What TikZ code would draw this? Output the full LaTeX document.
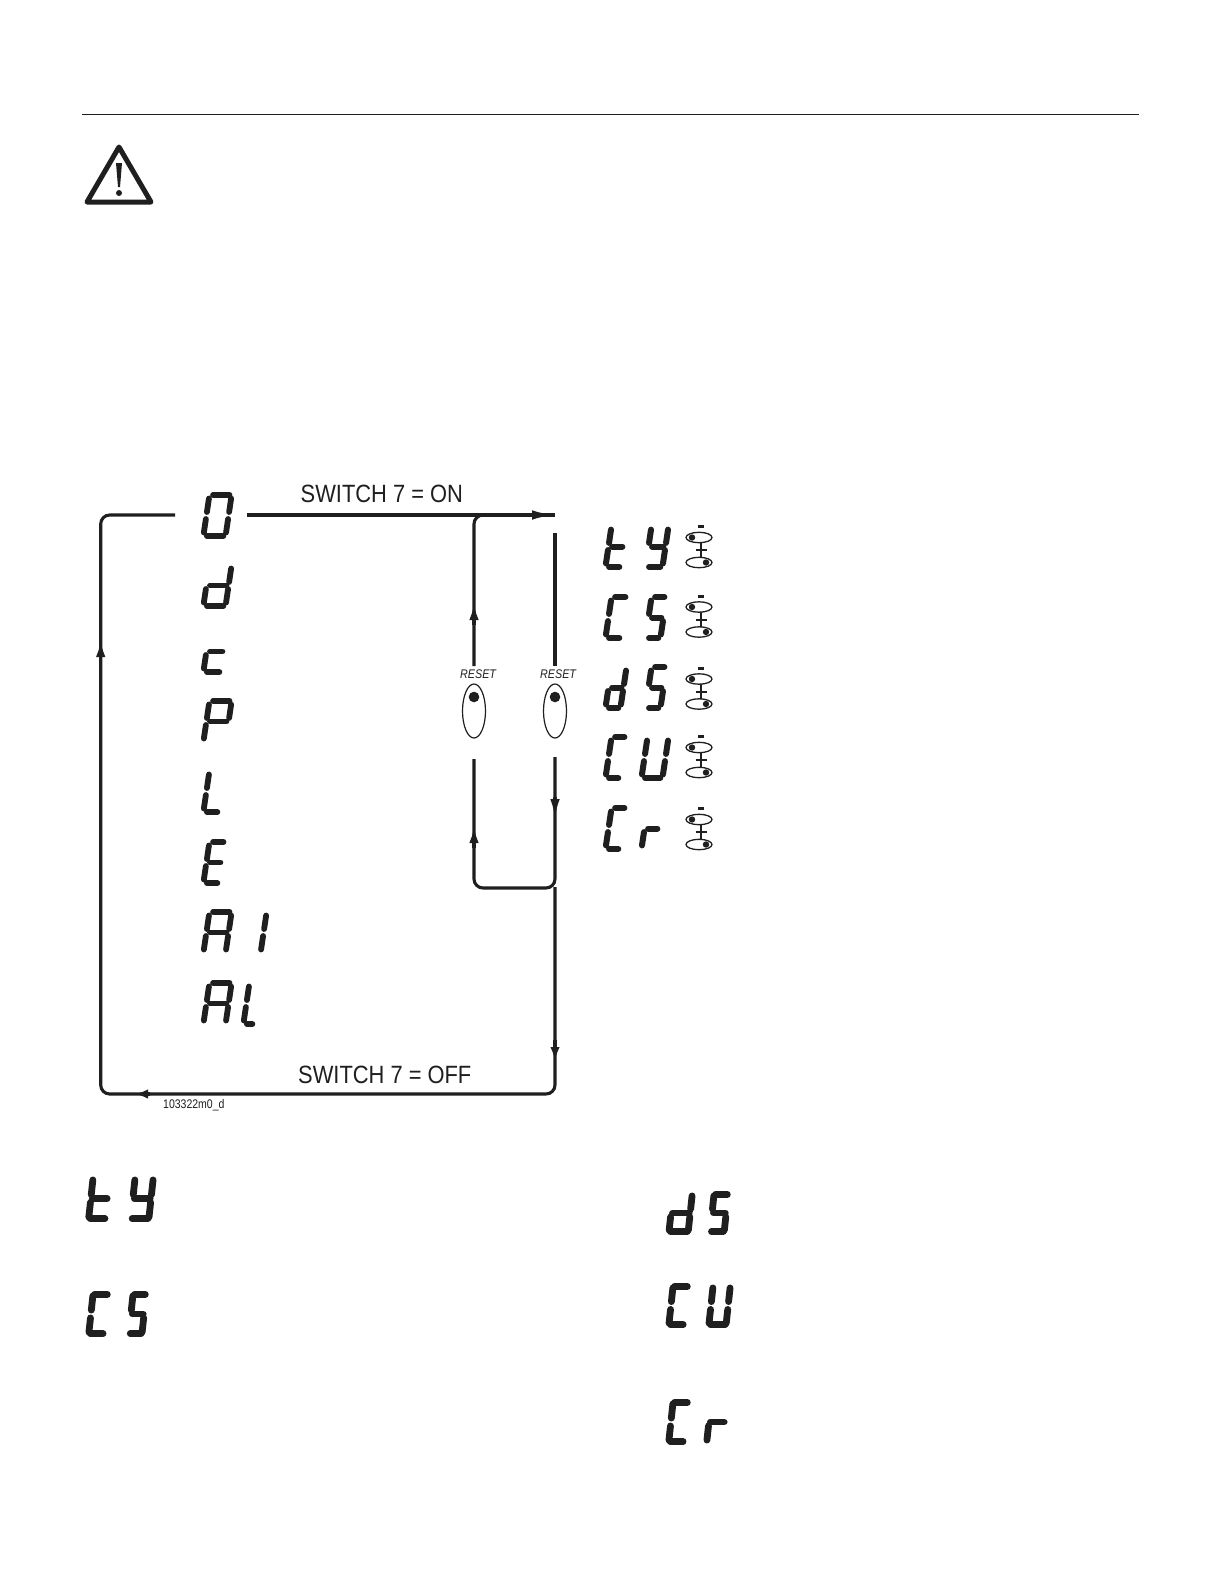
\documentclass[tikz,border=0pt]{standalone}
\usepackage{fontspec}
\setmainfont{Liberation Sans}
\usetikzlibrary{arrows.meta,shapes.geometric}
\definecolor{ink}{HTML}{1F1F1F}
\tikzset{
  flow/.style={draw=ink,line width=3.1pt,rounded corners=9pt},
  arrowline/.style={draw=ink,line width=3.1pt,-{Latex[length=#1,width=9.5pt]}},
  pill/.style={draw=ink,line width=2*\ft*1pt,line cap=round},
  oval/.style={ellipse,draw=ink,line width=1.2pt,inner sep=0pt,fill=white},
  label/.style={text=ink,inner sep=0pt,anchor=base west},
}
% display segments: \gw width, \gh height, \ft half thickness, \gp corner offset, \gm middle gap
\newcommand\fA{\draw[pill] (\ft+\gp,-\ft)--(\gw-\ft-.6*\gp,-\ft);}
\newcommand\fD{\draw[pill] (\ft+\gp,-\gh+\ft)--(\gw-\ft-.6*\gp,-\gh+\ft);}
\newcommand\fG{\draw[pill] (\ft+\gp,-\gh/2)--(\gw-\ft-.6*\gp,-\gh/2);}
\newcommand\fF{\draw[pill] (\ft,-\ft-\gp)--(\ft,-\gh/2+\ft+\gm);}
\newcommand\fE{\draw[pill] (\ft,-\gh/2-\ft-\gm)--(\ft,-\gh+\ft+\gp);}
\newcommand\fB{\draw[pill] (\gw-\ft,-\ft-\gp)--(\gw-\ft,-\gh/2+\ft+\gm);}
\newcommand\fC{\draw[pill] (\gw-\ft,-\gh/2-\ft-\gm)--(\gw-\ft,-\gh+\ft+\gp);}
% x(bottom-left) y(top) width half-thickness segments
\newcommand\glyph[5]{\begin{scope}[shift={(#1+7,-#2)},xslant=7/47]\def\gw{#3}\def\gh{47}\def\ft{#4}\def\gp{3.6}\def\gm{.6}#5\end{scope}}
\newcommand\fatglyph[5]{\begin{scope}[shift={(#1+5,-#2)},xslant=5/46]\def\gw{#3}\def\gh{#4}\def\ft{3.4}\def\gp{1.5}\def\gm{.5}#5\end{scope}}
\newcommand\buttons[1]{%
  \fill[ink] (698,-#1) rectangle (704,-#1-3);
  \draw[ink,line width=1.3pt] (699,-#1-12.5) ellipse (13 and 5.2);
  \fill[ink] (692,-#1-12.5) circle (3.2);
  \draw[ink,line width=1.3pt] (699,-#1-37.5) ellipse (13 and 5.2);
  \fill[ink] (706,-#1-37.5) circle (3.2);
  \draw[ink,line width=2pt] (701,-#1-17.5)--(701,-#1-32.5);
  \draw[ink,line width=2pt] (695.5,-#1-25)--(707,-#1-25);
}
\begin{document}
\begin{tikzpicture}[x=1pt,y=1pt]
\path[use as bounding box,fill=white] (0,0) rectangle (1224,-1584);
% top rule
\coordinate (ruleL) at (82,-114.5);
\coordinate (ruleR) at (1139,-114.5);
\draw[ink,line width=1pt] (ruleL)--(ruleR);
% warning triangle
\draw[ink,line width=5pt,line join=round] (119,-147)--(151,-202)--(87,-202)--cycle;
\fill[ink] (116,-163)--(122,-163)--(120,-187)--(118,-187)--cycle;
\fill[ink] (119,-193) circle (3);
% left column displays
\glyph{200}{492}{28}{2.9}{\fA\fB\fC\fD\fE\fF}
\glyph{200}{562}{28}{2.9}{\fB\fC\fD\fE\fG}
\glyph{200}{628}{24}{2.9}{\fD\fE\fG}
\glyph{200}{698}{28}{2.9}{\fA\fB\fE\fF\fG}
\glyph{200}{768}{22}{2.9}{\fD\fE\fF}
\glyph{200}{839}{22}{2.9}{\fA\fD\fE\fF\fG}
\glyph{200}{909}{28}{2.9}{\fA\fB\fC\fE\fF\fG}
\glyph{240}{909}{23}{2.9}{\fB\fC}
\glyph{200}{980}{28}{2.9}{\fA\fB\fC\fE\fF\fG}
\glyph{240}{980}{17}{2.9}{\fD\fE\fF}
% right column displays
\glyph{602}{523}{22}{3}{\fD\fE\fF\fG}
\glyph{642}{523}{23}{3}{\fB\fC\fD\fF\fG}
\glyph{602}{594}{22}{3}{\fA\fD\fE\fF}
\glyph{642}{594}{21}{3}{\fA\fC\fD\fF\fG}
\glyph{602}{664}{21}{3}{\fB\fC\fD\fE\fG}
\glyph{642}{664}{21}{3}{\fA\fC\fD\fF\fG}
\glyph{602}{734}{21}{3}{\fA\fD\fE\fF}
\glyph{638}{734}{27}{3}{\fB\fC\fD\fE\fF}
\glyph{602}{805}{21}{3}{\fA\fD\fE\fF}
\glyph{638}{805}{21}{3}{\fE\fG}
\buttons{525}
\buttons{594.5}
\buttons{666.5}
\buttons{735}
\buttons{807}
% reset buttons
\node[oval,minimum width=23pt,minimum height=54pt] (resetL) at (474,-711) {};
\node[oval,minimum width=23pt,minimum height=54pt] (resetR) at (555,-711) {};
\fill[ink] (474,-697) circle (5.3);
\fill[ink] (555,-697) circle (5.3);
\node[label,xscale=.86] (resetLtxt) at (460,-678) {\fontsize{12.5}{12.5}\selectfont\itshape RESET};
\node[label,xscale=.86] (resetRtxt) at (540,-678) {\fontsize{12.5}{12.5}\selectfont\itshape RESET};
% labels
\node[label,xscale=.875] (on) at (300.5,-502) {\fontsize{25}{25}\selectfont SWITCH 7 = ON};
\node[label,xscale=.875] (off) at (298,-1083) {\fontsize{25}{25}\selectfont SWITCH 7 = OFF};
\node[label,xscale=.84] (code) at (163,-1108) {\fontsize{12.5}{12.5}\selectfont 103322m0\_d};
% connectors
\coordinate (c0L) at (175,-515);
\coordinate (c0R) at (247,-515);
\coordinate (onTip) at (555,-515);
\coordinate (loopBR) at (555,-1094);
\coordinate (loopBL) at (100.7,-1094);
\coordinate (loopTL) at (100.7,-515);
\coordinate (junction) at (555,-888);
\coordinate (junctionL) at (474,-888);
\coordinate (rTop) at (555,-533);
\coordinate (branchTop) at (486,-515);
\coordinate (lUp) at (474,-666);
\coordinate (lLow) at (474,-759);
\coordinate (rLow) at (555,-757);
\coordinate (rUp) at (555,-666);
\coordinate (mainStart) at (555,-887);
\draw[flow] (mainStart)--(loopBR)--(loopBL)--(loopTL)--(c0L);
\draw[flow] (c0R)--(onTip);
\draw[flow] (lUp)|-(branchTop);
\draw[flow] (rTop)--(rUp);
\draw[flow] (lLow)--(junctionL)--(junction)--(rLow);
% arrowheads
\draw[arrowline=17pt] (100.7,-660)--(100.7,-640);
\draw[arrowline=23pt] (525,-515)--(555,-515);
\draw[arrowline=17pt] (474,-625)--(474,-603);
\draw[arrowline=17pt] (474,-848)--(474,-826);
\draw[arrowline=20pt] (555,-797)--(555,-819);
\draw[arrowline=14pt] (555,-1040)--(555,-1061);
\draw[arrowline=13pt] (150,-1094)--(135,-1094);
% large displays lower part of the page
\fatglyph{85}{1175}{24}{47}{\fD\fE\fF\fG}
\fatglyph{127}{1175}{25}{47}{\fB\fC\fD\fF\fG}
\fatglyph{85}{1291}{22}{46}{\fA\fD\fE\fF}
\fatglyph{125}{1291}{20}{46}{\fA\fC\fD\fF\fG}
\fatglyph{665}{1191}{26}{44}{\fB\fC\fD\fE\fG}
\fatglyph{706}{1191}{21}{44}{\fA\fC\fD\fF\fG}
\fatglyph{665}{1283}{22}{45}{\fA\fD\fE\fF}
\fatglyph{705}{1283}{24}{45}{\fB\fC\fD\fE\fF}
\fatglyph{665}{1399}{22}{46}{\fA\fD\fE\fF}
\fatglyph{703}{1399}{23}{46}{\fE\fG}
\end{tikzpicture}
\end{document}
